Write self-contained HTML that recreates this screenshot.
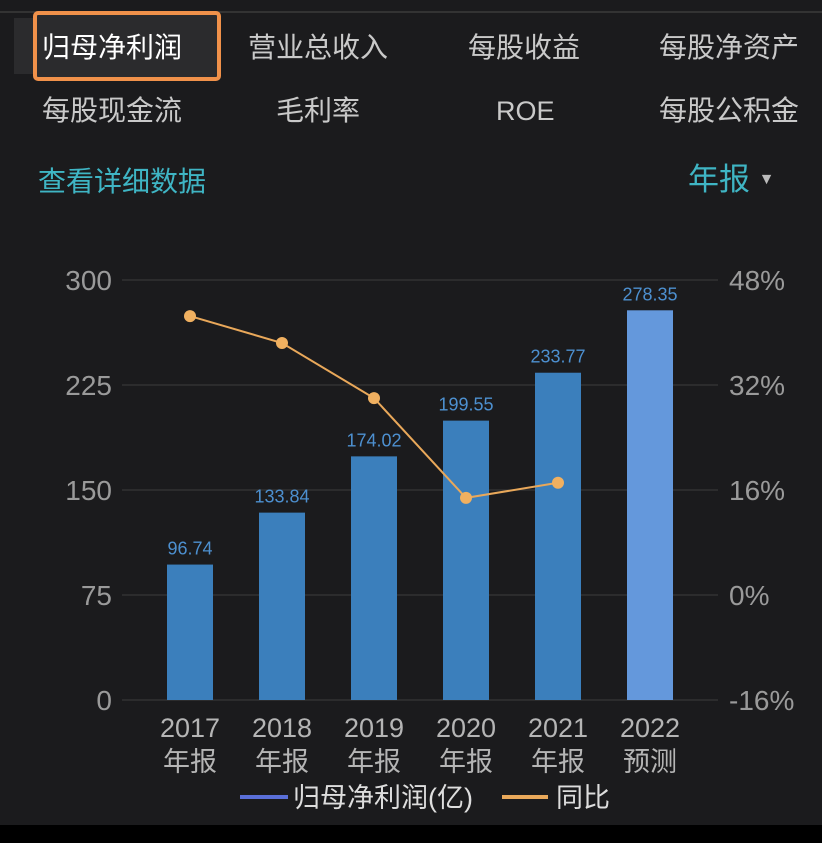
<!DOCTYPE html>
<html><head><meta charset="utf-8"><style>
body{margin:0;width:822px;height:843px;background:#1b1b1d;overflow:hidden;font-family:"Liberation Sans","Noto Sans CJK SC",sans-serif;position:relative}
.t{position:absolute;color:#c9c9c9;font-size:28px;line-height:34px;white-space:nowrap}
</style></head><body>
<div style="position:absolute;left:0;top:11px;width:822px;height:2px;background:#333"></div>
<div style="position:absolute;left:14px;top:18px;width:200px;height:56px;background:#2b2b2d"></div>
<div style="position:absolute;left:33px;top:11px;width:180px;height:62px;border:4px solid #f0914a;border-radius:5px;background:#2b2b2d"></div>
<div class="t" style="left:42px;top:31px;color:#fff">归母净利润</div>
<div class="t" style="left:248px;top:31px">营业总收入</div>
<div class="t" style="left:468px;top:31px">每股收益</div>
<div class="t" style="left:659px;top:31px">每股净资产</div>
<div class="t" style="left:42px;top:94px">每股现金流</div>
<div class="t" style="left:276px;top:94px">毛利率</div>
<div class="t" style="left:496px;top:94px;font-size:27px">ROE</div>
<div class="t" style="left:659px;top:94px">每股公积金</div>
<div class="t" style="left:38px;top:165px;color:#3fb5c4">查看详细数据</div>
<div class="t" style="left:688px;top:163px;color:#3fb5c4;font-size:31px">年报 <span style="font-size:16px;color:#bbb;vertical-align:6px">▼</span></div>
<svg id="chart" width="822" height="843" style="position:absolute;left:0;top:0"></svg>
<div style="position:absolute;left:0;top:825px;width:822px;height:18px;background:#000"></div>
<script>
const categories=["2017","2018","2019","2020","2021","2022"];
const subLabels=["年报","年报","年报","年报","年报","预测"];
const profit=[96.74,133.84,174.02,199.55,233.77,278.35];
const yoy=[42.5,38.4,30.0,14.8,17.1];
const leftTicks=[0,75,150,225,300];
const rightTicks=["-16%","0%","16%","32%","48%"];
const NS="http://www.w3.org/2000/svg",svg=document.getElementById('chart');
const y0=700,y1=280;
const yL=v=>y0-(v/300)*(y0-y1);
const yR=p=>y0-((p+16)/64)*(y0-y1);
const xC=i=>190+i*92;
function mk(t,a,txt){const e=document.createElementNS(NS,t);for(const k in a)e.setAttribute(k,a[k]);if(txt!=null)e.textContent=txt;svg.appendChild(e);return e;}
leftTicks.forEach((v,i)=>{
 const g=mk('line',{x1:122,x2:718,y1:yL(v),y2:yL(v),stroke:'#333',"stroke-width":1.5});
 
 
 const t=mk('text',{x:112,y:yL(v)+10,"text-anchor":"end",fill:'#9a9a9a',"font-size":28,"font-family":"Liberation Sans,sans-serif"},String(v));
 
 
 const r=mk('text',{x:729,y:yL(v)+10,fill:'#9a9a9a',"font-size":28,"font-family":"Liberation Sans,sans-serif"},rightTicks[i]);
 
 
});
profit.forEach((v,i)=>{
 const b=mk('rect',{x:xC(i)-23,y:yL(v),width:46,height:y0-yL(v),fill:i==5?'#6498dc':'#3b7fbc'});
 
 
 const l=mk('text',{x:xC(i),y:yL(v)-10,"text-anchor":"middle",fill:'#4d90d0',"font-size":18,"font-family":"Liberation Sans,sans-serif"},v.toFixed(2));
 
 
 const c=mk('text',{x:xC(i),y:737,"text-anchor":"middle",fill:'#b5b5b5',"font-size":27,"font-family":"Liberation Sans,sans-serif"},categories[i]);
 
 
 const s=mk('text',{x:xC(i),y:771,"text-anchor":"middle",fill:'#b5b5b5',"font-size":27,"font-family":"Liberation Sans,Noto Sans CJK SC,sans-serif"},subLabels[i]);
 
 
});
const pl=mk('polyline',{points:yoy.map((p,i)=>xC(i)+','+yR(p)).join(' '),fill:'none',stroke:'#e9a85a',"stroke-width":2});


yoy.forEach((p,i)=>{
 const d=mk('circle',{cx:xC(i),cy:yR(p),r:6,fill:'#f0b060'});
 
 
});
const lg1=mk('line',{x1:240,x2:288,y1:797,y2:797,stroke:'#5a6fd8',"stroke-width":4});


const lt1=mk('text',{x:293,y:807,fill:'#ddd',"font-size":27,"font-family":"Liberation Sans,Noto Sans CJK SC,sans-serif"},'归母净利润(亿)');


const lg2=mk('line',{x1:502,x2:548,y1:797,y2:797,stroke:'#e9a85a',"stroke-width":4});


const lt2=mk('text',{x:556,y:807,fill:'#ddd',"font-size":27,"font-family":"Liberation Sans,Noto Sans CJK SC,sans-serif"},'同比');


</script>
</body></html>
